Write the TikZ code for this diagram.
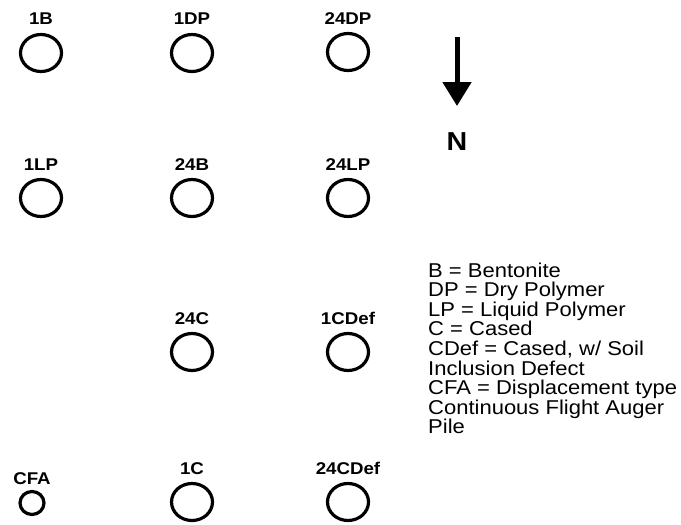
\documentclass[tikz,border=0pt]{standalone}
\usepackage{fontspec}
\setmainfont{Liberation Sans}[FakeStretch=1.1]
\usetikzlibrary{shapes.geometric,arrows.meta}
\tikzset{
  pile/.style={draw=black, line width=3.2pt, ellipse, minimum width=41pt, minimum height=37pt, inner sep=0pt},
  smallpile/.style={draw=black, line width=3.2pt, ellipse, minimum width=24pt, minimum height=23pt, inner sep=0pt},
  pilelabel/.style={anchor=base, inner sep=0pt, font=\fontsize{17}{19}\selectfont\bfseries},
  legend/.style={anchor=base west, inner sep=0pt, font=\fontsize{20}{20}\selectfont},
  northarrow/.style={line width=5pt, -{Triangle[width=28pt,length=24pt]}}
}
\begin{document}
\begin{tikzpicture}[x=1pt,y=-1pt]
\useasboundingbox (0,0) rectangle (681,525);
% row 1
\node[pile] (c1B) at (41,53) {};
\node[pilelabel] (t1B) at (41,24) {1B};
\node[pile] (c1DP) at (192,53) {};
\node[pilelabel] (t1DP) at (192,24) {1DP};
\node[pile] (c24DP) at (348,52) {};
\node[pilelabel] (t24DP) at (348,24) {24DP};
% row 2
\node[pile] (c1LP) at (41,198) {};
\node[pilelabel] (t1LP) at (41,170) {1LP};
\node[pile] (c24B) at (192,198) {};
\node[pilelabel] (t24B) at (192,170) {24B};
\node[pile] (c24LP) at (348,198) {};
\node[pilelabel] (t24LP) at (348,170) {24LP};
% row 3
\node[pile] (c24C) at (192,352) {};
\node[pilelabel] (t24C) at (192,324) {24C};
\node[pile] (c1CDef) at (348,352) {};
\node[pilelabel] (t1CDef) at (348,324) {1CDef};
% row 4
\node[smallpile] (cCFA) at (32,503) {};
\node[pilelabel] (tCFA) at (32,484) {CFA};
\node[pile] (c1C) at (192,502) {};
\node[pilelabel] (t1C) at (192,474) {1C};
\node[pile] (c24CDef) at (348,502) {};
\node[pilelabel] (t24CDef) at (348,474) {24CDef};
% north arrow
\coordinate (atop) at (457,37);
\coordinate (abot) at (457,106);
\draw[northarrow] (atop) -- (abot);
\node[inner sep=0pt, font=\fontsize{26}{28}\selectfont\bfseries] (north) at (457,142) {N};
% legend
\node[legend] (l1) at (428,277) {B = Bentonite};
\node[legend] (l2) at (428,296.6) {DP = Dry Polymer};
\node[legend] (l3) at (428,316.2) {LP = Liquid Polymer};
\node[legend] (l4) at (428,335.8) {C = Cased};
\node[legend] (l5) at (428,355.4) {CDef = Cased, w/ Soil};
\node[legend] (l6) at (428,375) {Inclusion Defect};
\node[legend] (l7) at (428,394.6) {CFA = Displacement type};
\node[legend] (l8) at (428,414.2) {Continuous Flight Auger};
\node[legend] (l9) at (428,433.8) {Pile};
\end{tikzpicture}
\end{document}
